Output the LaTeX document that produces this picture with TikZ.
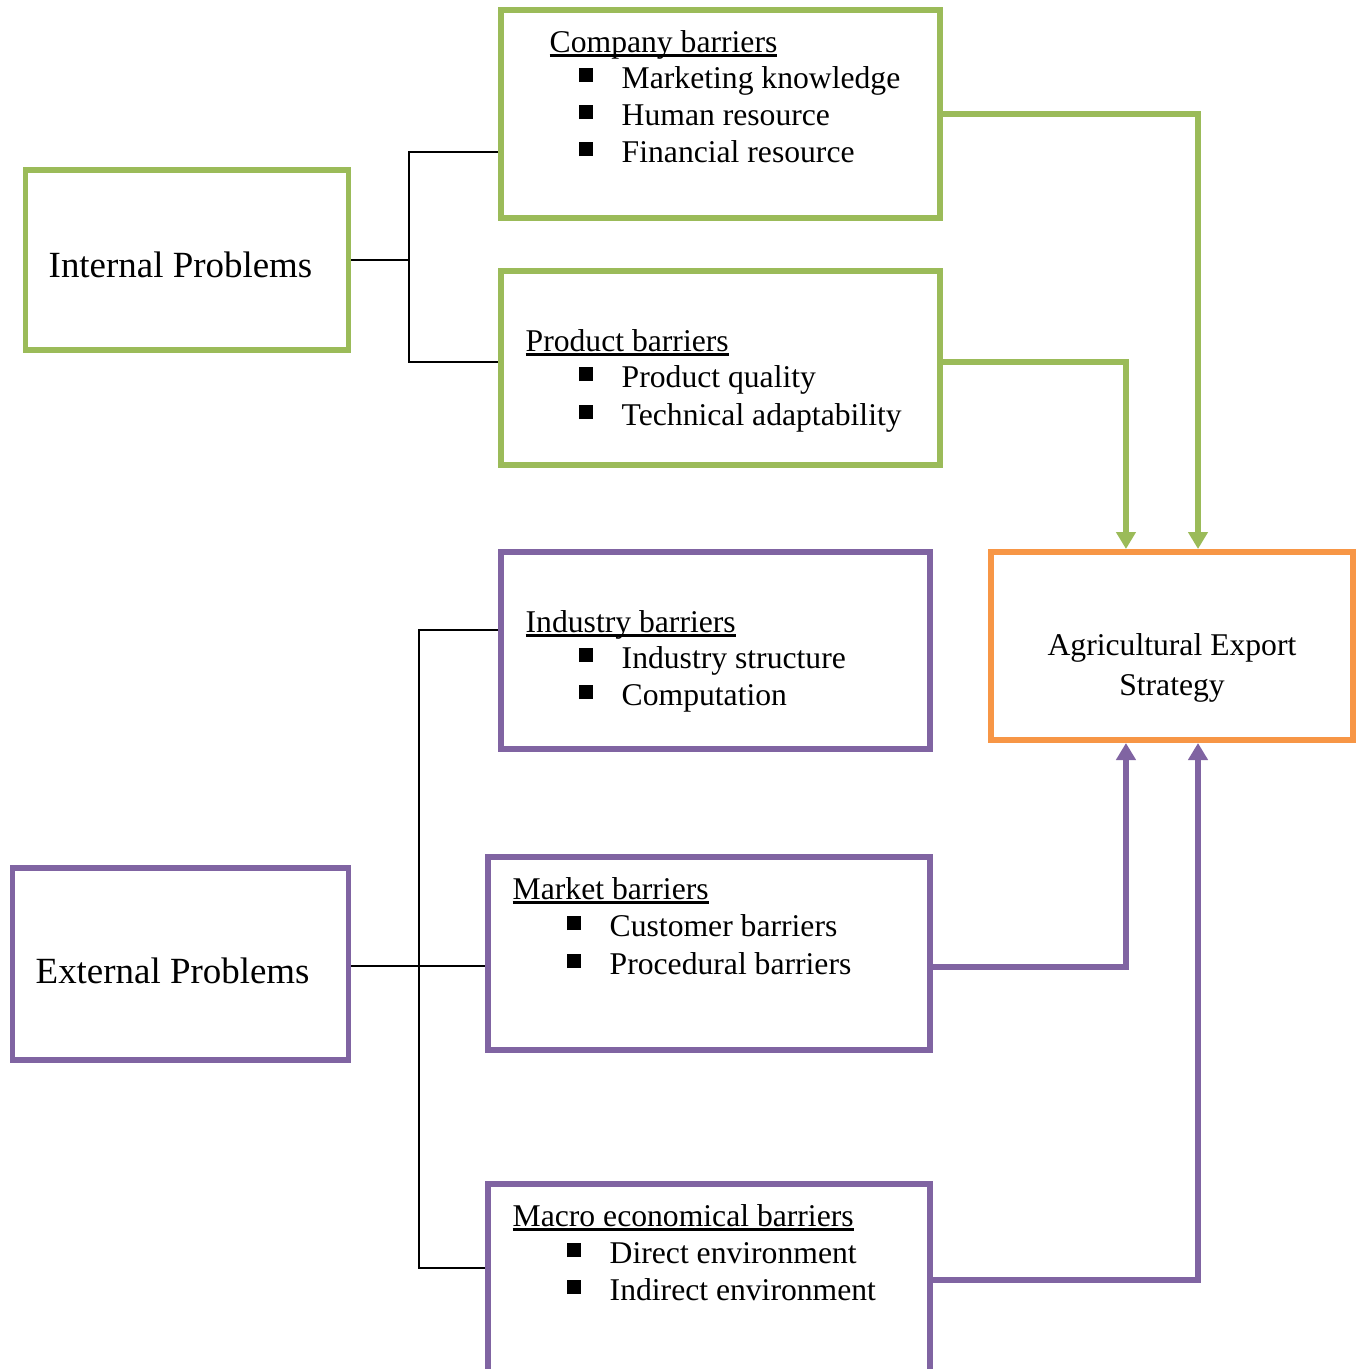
\documentclass[tikz,border=0pt]{standalone}
\usepackage{fontspec}
\setmainfont{Liberation Serif}
\usepackage{xcolor}
\definecolor{ColG}{RGB}{155,187,89}
\definecolor{ColP}{RGB}{128,100,162}
\definecolor{ColO}{RGB}{247,150,70}
\usepackage{tikz}
\usetikzlibrary{fit}
\usetikzlibrary{arrows.meta}
\newcommand{\Head}[1]{\setbox0\hbox{#1}\rlap{\rule[-1.4pt]{\wd0}{0.7pt}}\box0}
\newcommand{\Bul}{\rule[0.6mm]{1.4mm}{1.4mm}\hspace{2.9mm}}
\tikzstyle{GBox}=[draw=ColG,line width=1.7pt,inner sep=0pt]
\tikzstyle{PBox}=[draw=ColP,line width=1.7pt,inner sep=0pt]
\tikzstyle{OBox}=[draw=ColO,line width=1.7pt,inner sep=0pt]
\tikzstyle{Tree}=[draw=black,line width=0.8pt]
\tikzstyle{GEdge}=[draw=ColG,line width=1.7pt,
-{Triangle[width=1.9mm,length=1.7mm]}]
\tikzstyle{PEdge}=[draw=ColP,line width=1.7pt,
-{Triangle[width=1.9mm,length=1.7mm]}]
\tikzstyle{NodeBig}=[anchor=base west,inner sep=0pt,
font=\fontsize{10.5}{12}\selectfont]
\tikzstyle{NodeST}=[anchor=base west,inner sep=0pt,
font=\fontsize{9}{11}\selectfont]

\begin{document}
\begin{tikzpicture}[x=0.01cm,y=-0.01cm]
        \useasboundingbox(0,0)rectangle(1364,1369);
        % boxes
        \node[GBox,fit={(25.5,170)(348.5,350)}](intl){};
        \node[PBox,fit={(12.5,868)(348.5,1060)}](extl){};
        \node[GBox,fit={(501,10)(940,218)}](comp){};
        \node[GBox,fit={(501,271)(940,465)}](prod){};
        \node[PBox,fit={(501,552)(930,749)}](indu){};
        \node[PBox,fit={(488,857)(930,1050)}](mark){};
        \node[PBox,fit={(488,1184)(930,1375)}](macr){};
        \node[OBox,fit={(991,552)(1353,740)}](agri){};
        % texts
        \node[NodeBig](intlT)at(48,277){Internal Problems};
        \node[NodeBig](extlT)at(35,983){External Problems};
        \node[NodeST,anchor=base](agriT1)at(1172,655){Agricultural Export};
        \node[NodeST,anchor=base](agriT2)at(1172,695){Strategy};
        \node[NodeST](compH)at(549,52){\Head{Company barriers}};
        \node[NodeST](comp1)at(578,88){\Bul Marketing knowledge};
        \node[NodeST](comp2)at(578,125){\Bul Human resource};
        \node[NodeST](comp3)at(578,162){\Bul Financial resource};
        \node[NodeST](prodH)at(525,351){\Head{Product barriers}};
        \node[NodeST](prod1)at(578,387){\Bul Product quality};
        \node[NodeST](prod2)at(578,425){\Bul Technical adaptability};
        \node[NodeST](induH)at(525,632){\Head{Industry barriers}};
        \node[NodeST](indu1)at(578,668){\Bul Industry structure};
        \node[NodeST](indu2)at(578,705){\Bul Computation};
        \node[NodeST](markH)at(512,899){\Head{Market barriers}};
        \node[NodeST](mark1)at(566,936){\Bul Customer barriers};
        \node[NodeST](mark2)at(566,974){\Bul Procedural barriers};
        \node[NodeST](macrH)at(512,1226){\Head{Macro economical barriers}};
        \node[NodeST](macr1)at(566,1263){\Bul Direct environment};
        \node[NodeST](macr2)at(566,1300){\Bul Indirect environment};
        % tree lines
        \coordinate(ij)at(409,260);
        \coordinate(ej)at(419,966);
        \draw[Tree](intl.east)--(ij);
        \draw[Tree]([yshift=-0.38cm]comp.west)-|(ij)|-([yshift=0.06cm]prod.west);
        \draw[Tree](extl.east|-ej)--(ej-|mark.west);
        \draw[Tree]([yshift=0.205cm]indu.west)-|(ej)|-([yshift=0.115cm]macr.west);
        % arrows
        \draw[GEdge](comp.east)-|([xshift=0.26cm]agri.north);
        \draw[GEdge]([yshift=0.06cm]prod.east)-|([xshift=-0.46cm]agri.north);
        \draw[PEdge]([yshift=-0.135cm]mark.east)-|([xshift=-0.46cm]agri.south);
        \draw[PEdge](macr.east)-|([xshift=0.26cm]agri.south);
    \end{tikzpicture}
\end{document}
